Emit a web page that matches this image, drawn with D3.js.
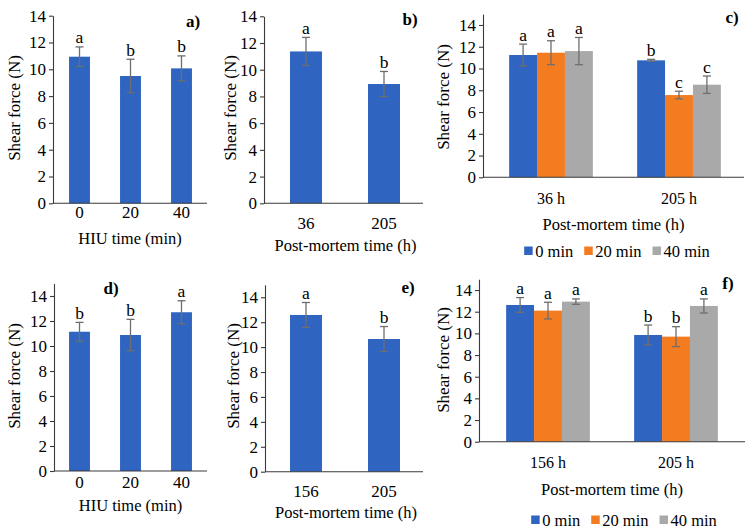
<!DOCTYPE html>
<html>
<head>
<meta charset="utf-8">
<script src="https://cdn.jsdelivr.net/npm/d3@7"></script>
</head>
<body style="margin:0;padding:0;background:#fff">
<svg id="chart" width="753" height="532" style="display:block"></svg>
<script>
// ---------- DATA ----------
const yTicks = [0, 2, 4, 6, 8, 10, 12, 14];
const seriesNames = ["0 min", "20 min", "40 min"];

// a) HIU time, 36 h
const catsA = ["0", "20", "40"];
const valsA = [10.94, 9.50, 10.07];
const errA = [0.73, 1.25, 0.93];
const lettersA = ["a", "b", "b"];

// b) post-mortem time
const catsB = ["36", "205"];
const valsB = [11.37, 8.93];
const errB = [1.05, 0.94];
const lettersB = ["a", "b"];

// c) interaction
const catsC = ["36 h", "205 h"];
const valsC0 = [11.24, 10.75];
const valsC20 = [11.45, 7.56];
const valsC40 = [11.60, 8.51];
const errC0 = [1.00, 0.09];
const errC20 = [1.10, 0.35];
const errC40 = [1.25, 0.80];
const lettersC0 = ["a", "b"];
const lettersC20 = ["a", "c"];
const lettersC40 = ["a", "c"];

// d) HIU time
const catsD = ["0", "20", "40"];
const valsD = [11.14, 10.88, 12.70];
const errD = [0.75, 1.25, 0.92];
const lettersD = ["b", "b", "a"];

// e) post-mortem time
const catsE = ["156", "205"];
const valsE = [12.58, 10.65];
const errE = [1.00, 1.00];
const lettersE = ["a", "b"];

// f) interaction
const catsF = ["156 h", "205 h"];
const valsF0 = [12.62, 9.85];
const valsF20 = [12.10, 9.70];
const valsF40 = [12.93, 12.53];
const errF0 = [0.68, 0.92];
const errF20 = [0.77, 0.92];
const errF40 = [0.25, 0.65];
const lettersF0 = ["a", "b"];
const lettersF20 = ["a", "b"];
const lettersF40 = ["a", "a"];

// ---------- STYLE ----------
const FONT = "'Liberation Serif'";
const colors = ["#2F65C0", "#F47C20", "#A9A9A9"];
const errColor = "#6E6E6E";
const axisColor = "#3a3a3a";

const svg = d3.select("#chart");

function txt(sel, size, weight) {
  sel.attr("font-family", null).attr("font-size", null);
  return sel.style("font-family", FONT).style("font-size", size + "px")
    .style("font-weight", weight || "normal").style("fill", "#000");
}

function drawPanel(cfg, cats, series) {
  const g = svg.append("g");
  const y = d3.scaleLinear().domain([0, cfg.ymax]).range([cfg.y0, cfg.yTop]);
  const nS = series.length;
  let x0;
  if (nS === 1) {
    x0 = d3.scaleBand().domain(cats).range(cfg.xRange).paddingInner(0.59).paddingOuter(0.295);
  } else {
    x0 = d3.scaleBand().domain(cats).range(cfg.xRange).paddingInner(0.346).paddingOuter(0.173);
  }
  const x1 = d3.scaleBand().domain(d3.range(nS)).range([0, x0.bandwidth()]);

  // bars
  series.forEach((s, si) => {
    cats.forEach((c, i) => {
      g.append("rect")
        .attr("x", x0(c) + x1(si)).attr("width", x1.bandwidth())
        .attr("y", y(s.vals[i])).attr("height", y(0) - y(s.vals[i]))
        .attr("fill", colors[si]);
    });
  });
  // error bars + letters
  series.forEach((s, si) => {
    cats.forEach((c, i) => {
      const cx = x0(c) + x1(si) + x1.bandwidth() / 2;
      const hi = y(s.vals[i] + s.err[i]);
      const lo = y(s.vals[i] - s.err[i]);
      g.append("line").attr("x1", cx).attr("x2", cx).attr("y1", hi).attr("y2", lo)
        .attr("stroke", errColor).attr("stroke-width", 1.3);
      [hi, lo].forEach(yy => g.append("line")
        .attr("x1", cx - 4).attr("x2", cx + 4).attr("y1", yy).attr("y2", yy)
        .attr("stroke", errColor).attr("stroke-width", 1.3));
      txt(g.append("text").attr("x", cx).attr("y", hi - 3.5)
        .attr("text-anchor", "middle"), 17.5).text(s.letters[i]);
    });
  });

  // y axis
  const ya = g.append("g").attr("transform", `translate(${cfg.axisX},0)`)
    .call(d3.axisLeft(y).tickValues(yTicks).tickSize(4).tickSizeOuter(0).tickPadding(3));
  ya.attr("font-family", null).attr("font-size", null);
  ya.select(".domain").attr("stroke", axisColor).attr("stroke-width", 1.1);
  ya.selectAll(".tick line").attr("stroke", axisColor).attr("stroke-width", 1.1);
  txt(ya.selectAll(".tick text"), 17);

  // x axis line
  g.append("line").attr("x1", cfg.axisX).attr("x2", cfg.axisXEnd)
    .attr("y1", cfg.y0).attr("y2", cfg.y0)
    .attr("stroke", axisColor).attr("stroke-width", 1.1);
  // x tick labels
  const xa = g.append("g").attr("transform", `translate(0,${cfg.y0})`)
    .call(d3.axisBottom(x0).tickSize(0).tickPadding(0));
  xa.attr("font-family", null).attr("font-size", null);
  xa.select(".domain").remove();
  txt(xa.selectAll(".tick text").attr("y", cfg.xLabY - cfg.y0).attr("dy", 0), cfg.xTickSize);

  // axis titles
  txt(g.append("text").attr("x", (cfg.axisX + cfg.axisXEnd) / 2 + (cfg.xTitleDx || 0)).attr("y", cfg.xTitleY)
    .attr("text-anchor", "middle"), 16.5).text(cfg.xTitle);
  txt(g.append("text").attr("transform", `translate(${cfg.yTitleX},${cfg.yTitleY}) rotate(-90)`)
    .attr("text-anchor", "middle").attr("dy", "0.35em"), 17)
    .text("Shear force (N)");

  // panel label
  txt(g.append("text").attr("x", cfg.labX).attr("y", cfg.labY).attr("text-anchor", "middle"), 17, "bold")
    .text(cfg.label);

  // legend
  if (cfg.legendY) {
    const lg = g.append("g");
    const items = [];
    seriesNames.forEach((n, i) => {
      const it = lg.append("g");
      it.append("rect").attr("x", 0).attr("y", -4.5).attr("width", 8.5).attr("height", 8.5).attr("fill", colors[i]);
      const t = txt(it.append("text").attr("x", 11).attr("y", 5.5), 16.5).text(n);
      const w = 11 + t.node().getComputedTextLength();
      items.push({ it, w });
    });
    const gap = 11;
    const total = d3.sum(items, d => d.w) + gap * (items.length - 1);
    let xx = cfg.legendX - total / 2;
    items.forEach(d => { d.it.attr("transform", `translate(${xx},${cfg.legendY})`); xx += d.w + gap; });
  }
}

function single(vals, err, letters) { return [{ vals, err, letters }]; }

drawPanel({ xRange: [54, 207], axisX: 53, axisXEnd: 207, y0: 203.3, yTop: 15.7, ymax: 14,
  xLabY: 218.5, xTickSize: 17, xTitleY: 243.5, xTitle: "HIU time (min)", yTitleX: 14, yTitleY: 108,
  label: "a)", labX: 193, labY: 27 }, catsA, single(valsA, errA, lettersA));

drawPanel({ xRange: [267, 423], axisX: 264, axisXEnd: 423, y0: 203.3, yTop: 16.3, ymax: 14,
  xLabY: 229, xTickSize: 17, xTitleY: 251, xTitle: "Post-mortem time (h)", xTitleDx: 2, yTitleX: 230, yTitleY: 108,
  label: "b)", labX: 410, labY: 25 }, catsB, single(valsB, errB, lettersB));

drawPanel({ xRange: [487, 743], axisX: 483, axisXEnd: 744, y0: 177.3, yTop: 14.1, ymax: 15,
  xLabY: 204, xTickSize: 16, xTitleY: 230, xTitle: "Post-mortem time (h)", yTitleX: 443, yTitleY: 97,
  label: "c)", labX: 732, labY: 23, legendX: 617, legendY: 251 }, catsC,
  [{ vals: valsC0, err: errC0, letters: lettersC0 },
   { vals: valsC20, err: errC20, letters: lettersC20 },
   { vals: valsC40, err: errC40, letters: lettersC40 }]);

drawPanel({ xRange: [54, 207], axisX: 54, axisXEnd: 207, y0: 471, yTop: 283.5, ymax: 15,
  xLabY: 487.5, xTickSize: 17, xTitleY: 511, xTitle: "HIU time (min)", yTitleX: 14, yTitleY: 376,
  label: "d)", labX: 111, labY: 294 }, catsD, single(valsD, errD, lettersD));

drawPanel({ xRange: [267, 423], axisX: 265, axisXEnd: 423, y0: 471.7, yTop: 284.8, ymax: 15,
  xLabY: 497, xTickSize: 17, xTitleY: 518, xTitle: "Post-mortem time (h)", xTitleDx: 2, yTitleX: 233, yTitleY: 376,
  label: "e)", labX: 408, labY: 293 }, catsE, single(valsE, errE, lettersE));

drawPanel({ xRange: [484, 740], axisX: 479, axisXEnd: 745, y0: 441.7, yTop: 279.2, ymax: 15,
  xLabY: 468, xTickSize: 16, xTitleY: 495, xTitle: "Post-mortem time (h)", yTitleX: 443, yTitleY: 360,
  label: "f)", labX: 728, labY: 289, legendX: 624, legendY: 520 }, catsF,
  [{ vals: valsF0, err: errF0, letters: lettersF0 },
   { vals: valsF20, err: errF20, letters: lettersF20 },
   { vals: valsF40, err: errF40, letters: lettersF40 }]);
</script>
</body>
</html>
